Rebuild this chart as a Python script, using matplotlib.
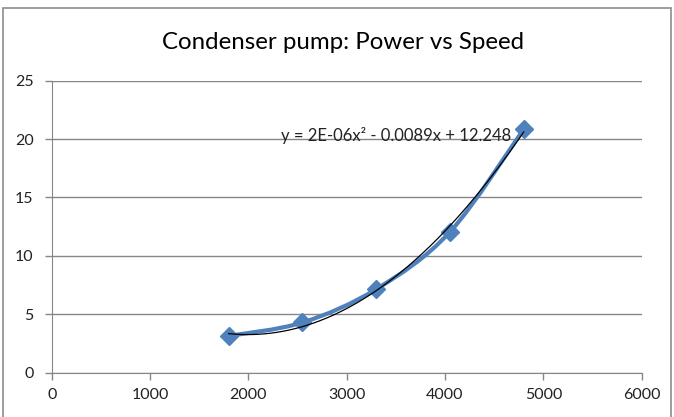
import numpy as np
import matplotlib
matplotlib.use("Agg")
import matplotlib.pyplot as plt
from matplotlib.path import Path
from matplotlib.patches import PathPatch, Rectangle

speed = [1800, 2550, 3300, 4050, 4800]
power = [3.15, 4.3, 7.15, 12.05, 20.85]
x_ticks = [0, 1000, 2000, 3000, 4000, 5000, 6000]
y_ticks = [0, 5, 10, 15, 20, 25]
title = "Condenser pump: Power vs Speed"
equation = "y = 2E-06x\u00b2 - 0.0089x + 12.248"

plt.rcParams["font.family"] = ["Lato", "DejaVu Sans"]
blue = "#4F81BD"
grey = "#868686"

fig = plt.figure(figsize=(6.74, 4.17), dpi=100)
ax = fig.add_axes([0.0767, 0.1062, 0.8753, 0.7003])

# outer chart border (Excel style)
fig.patches.append(Rectangle((3 / 674, -0.1), 668 / 674, 1.1 - 8 / 417, transform=fig.transFigure,
                             fill=False, edgecolor="#8c8c8c", lw=1.2, clip_on=False))

# smoothed series line: Catmull-Rom style bezier through the points
xs = np.array(speed, float)
ys = np.array(power, float)
verts = [(xs[0], ys[0])]
codes = [Path.MOVETO]
for i in range(len(xs) - 1):
    p0 = np.array([xs[max(i - 1, 0)], ys[max(i - 1, 0)]])
    p1 = np.array([xs[i], ys[i]])
    p2 = np.array([xs[i + 1], ys[i + 1]])
    p3 = np.array([xs[min(i + 2, len(xs) - 1)], ys[min(i + 2, len(xs) - 1)]])
    c1 = p1 + (p2 - p0) / 6
    c2 = p2 - (p3 - p1) / 6
    verts += [tuple(c1), tuple(c2), tuple(p2)]
    codes += [Path.CURVE4] * 3
ax.add_patch(PathPatch(Path(verts, codes), fill=False, edgecolor=blue, lw=3, zorder=3,
                       capstyle="round", joinstyle="round"))
ax.plot(speed, power, ls="none", marker="D", ms=9, color=blue, zorder=4)

# polynomial trendline
coef = np.polyfit(speed, power, 2)
tx = np.linspace(min(speed), max(speed), 200)
ax.plot(tx, np.polyval(coef, tx), color="black", lw=0.9, zorder=5)
ax.text(3500, 20.35, equation, fontsize=12, ha="center", va="center", color="#222222", zorder=6)

ax.set_xlim(0, 6000)
ax.set_ylim(0, 25)
ax.set_xticks(x_ticks)
ax.set_yticks(y_ticks)
ax.grid(axis="y", color=grey, lw=1)
ax.set_axisbelow(True)
for s in ["top", "right"]:
    ax.spines[s].set_visible(False)
for s in ["left", "bottom"]:
    ax.spines[s].set_color(grey)
ax.tick_params(colors=grey, labelcolor="#222222", labelsize=11.5, length=5, width=1)
ax.tick_params(axis="y", pad=8)
ax.tick_params(axis="x", pad=6)

fig.text(0.509, 0.898, title, fontsize=17.3, ha="center", va="center", color="black")

fig.savefig("out.png", dpi=100)
